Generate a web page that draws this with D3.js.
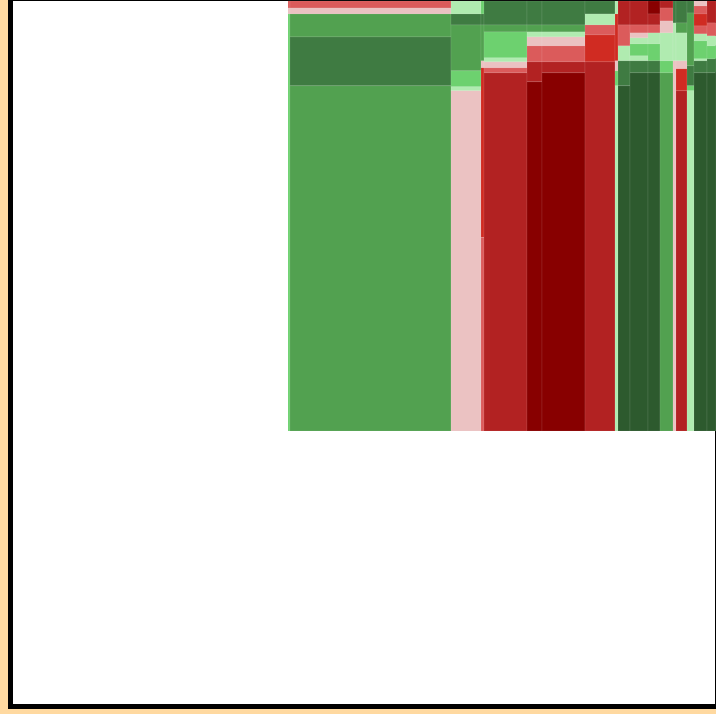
<!DOCTYPE html>
<html>
<head>
<meta charset="utf-8">
<script src="https://cdn.jsdelivr.net/npm/d3@7"></script>
<style>
  html, body { margin: 0; padding: 0; background: #ffd9a0; overflow: hidden; }
  svg { display: block; }
</style>
</head>
<body>
<svg id="map" width="716" height="714"></svg>
<script>
// column widths (left to right) of the visible part of the map
const columnWidths = [2, 161, 30, 3, 43, 15, 43, 30, 3, 12, 18, 12, 13, 3, 11, 7, 13, 9];

// % change bucket of each cell, top to bottom, per column
const columnChanges = [
  [-1, -0.5, 1],
  [-1, -0.5, 2, 3, 2],
  [0.5, 3, 2, 1, 0.5, -0.5],
  [1, 3, 2, -0.5, -2, -1],
  [3, 2, 1, 0.5, -0.5, -1, -3],
  [3, 2, 0.5, -0.5, -1, -3, -4],
  [3, 2, 0.5, -0.5, -1, -3, -4],
  [3, 0.5, -1, -2, -3],
  [0.5, -2, -0.5, 1, 0.5],
  [-3, -1, 0.5, 3, 4],
  [-3, -1, -0.5, 0.5, 1, 0.5, 3, 4],
  [-4, -3, -1, 0.5, 1, 3, 4],
  [-3, -1, -0.5, 0.5, 1, 2],
  [3, 0.5, -0.5],
  [3, 2, 0.5, -0.5, -2, -3],
  [3, 2, 3, 1, 0.5],
  [-0.5, -1, -2, -1, 0.5, 1, 0.5, 3, 4],
  [-3, -1, 0.5, 1, 3, 4]
];

// cell heights, top to bottom, per column (each column sums to 431)
const columnHeights = [
  [7, 6, 418],
  [7, 6, 23, 49, 346],
  [13, 11, 46, 16, 4, 341],
  [13, 11, 36, 7, 170, 194],
  [24, 7, 26, 4, 6, 5, 359],
  [24, 7, 5, 9, 16, 20, 350],
  [24, 7, 5, 9, 16, 11, 359],
  [13, 11, 10, 27, 370],
  [13, 47, 10, 15, 346],
  [24, 21, 15, 25, 346],
  [24, 8, 5, 6, 12, 5, 12, 359],
  [13, 11, 8, 11, 17, 12, 359],
  [7, 13, 12, 28, 12, 359],
  [22, 38, 371],
  [22, 10, 28, 8, 22, 341],
  [12, 53, 20, 5, 341],
  [5, 8, 12, 8, 7, 18, 2, 12, 359],
  [22, 13, 10, 13, 14, 359]
];

const changeBuckets = [-4, -3, -2, -1, -0.5, 0.5, 1, 2, 3, 4];
const bucketColors = ["#880000", "#b22222", "#d02b22", "#db5b5b", "#ebc2c2",
                      "#b0ebb0", "#6dd16f", "#52a150", "#3f7b42", "#2d5a2e"];

const svg = d3.select("#map");
const color = d3.scaleOrdinal(changeBuckets, bucketColors);

const xEdges = [0, ...d3.cumsum(columnWidths)];
const x = d3.scaleLinear().domain([0, d3.sum(columnWidths)]).range([288, 716]);
const y = d3.scaleLinear().domain([0, d3.sum(columnHeights[0])]).range([1, 431]);

// frame
svg.append("rect")
  .attr("x", 10.5)
  .attr("y", -1.5)
  .attr("width", 707)
  .attr("height", 708)
  .attr("fill", "#fff")
  .attr("stroke", "#000")
  .attr("stroke-width", 5);

const cells = columnWidths.flatMap((_w, i) => {
  const tops = [0, ...d3.cumsum(columnHeights[i])];
  return columnHeights[i].map((h, j) => ({
    x0: xEdges[i],
    x1: xEdges[i + 1],
    y0: tops[j],
    y1: tops[j + 1],
    change: columnChanges[i][j]
  }));
});

svg.append("g")
  .attr("class", "cells")
  .selectAll("rect")
  .data(cells)
  .join("rect")
  .attr("x", (d) => x(d.x0))
  .attr("y", (d) => y(d.y0))
  .attr("width", (d) => x(d.x1) - x(d.x0))
  .attr("height", (d) => y(d.y1) - y(d.y0))
  .attr("fill", (d) => color(d.change))
  .attr("stroke", "rgba(255,255,255,0.1)")
  .attr("stroke-width", 0.8);
</script>
</body>
</html>
